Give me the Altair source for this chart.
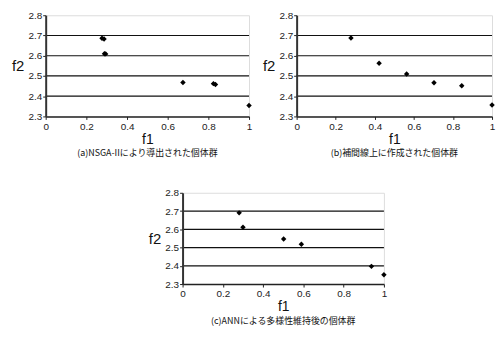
import altair as alt
import pandas as pd

FONT = "Liberation Sans, Arial, Noto Sans CJK JP"
CJK = "Noto Sans CJK JP, Liberation Sans"

# panel (a)
a_f1 = [0.277, 0.287, 0.289, 0.295, 0.675, 0.825, 0.835, 1.0]
a_f2 = [2.686, 2.683, 2.610, 2.609, 2.468, 2.462, 2.458, 2.354]
# panel (b)
b_f1 = [0.278, 0.422, 0.563, 0.703, 0.845, 1.0]
b_f2 = [2.688, 2.563, 2.510, 2.466, 2.452, 2.356]
# panel (c)
c_f1 = [0.281, 0.300, 0.502, 0.590, 0.938, 1.0]
c_f2 = [2.690, 2.611, 2.547, 2.518, 2.397, 2.351]

captions = [
    "(a)NSGA-IIにより導出された個体群",
    "(b)補間線上に作成された個体群",
    "(c)ANNによる多様性維持後の個体群",
]
x_ticks = [0, 0.2, 0.4, 0.6, 0.8, 1.0]
y_ticks = [2.3, 2.4, 2.5, 2.6, 2.7, 2.8]
grid_vals = [2.4, 2.5, 2.6, 2.7]

BORDER = "#7f9ca2"


def panel(xs, ys, caption, w, h):
    df = pd.DataFrame({"f1": xs, "f2": ys})
    gdf = pd.DataFrame({"f2": grid_vals})
    yscale = alt.Scale(domain=[2.3, 2.8], nice=False, zero=False)
    yaxis = alt.Axis(
        values=y_ticks, title="f2", grid=False, labelFontSize=10,
        labelFont=FONT, labelColor="#222", labelPadding=1,
        tickSize=3, tickColor="#222", domainColor="#333", domainWidth=2,
        titleFont=FONT, titleFontSize=15, titleFontWeight="normal",
        titleColor="#111", titleAngle=0, titleAlign="right",
        titleBaseline="middle", titleX=-22, titleY=h / 2,
        format=".1f", zindex=1, labelFlush=False, labelOverlap=False,
    )
    xenc = alt.X(
        "f1:Q",
        scale=alt.Scale(domain=[0, 1], nice=False, zero=False),
        axis=alt.Axis(
            values=x_ticks, title="f1", grid=False, labelFontSize=10,
            labelFont=FONT, labelColor="#222", labelPadding=2,
            tickSize=3, tickColor="#222", domainColor="#222", domainWidth=1.5,
            titleFont=FONT, titleFontSize=14, titleFontWeight="normal",
            titleColor="#111", titlePadding=1, zindex=1, labelFlush=False,
            labelOverlap=False, format=".1~f",
        ),
    )
    grid = alt.Chart(gdf).mark_rule(color="#111", strokeWidth=1.2).encode(
        y=alt.Y("f2:Q", scale=yscale, axis=yaxis)
    )
    pts = alt.Chart(df).mark_point(
        shape="diamond", filled=True, color="black", opacity=1, size=30
    ).encode(x=xenc, y=alt.Y("f2:Q", scale=yscale, axis=yaxis))
    return alt.layer(grid, pts).properties(
        width=w, height=h,
        title=alt.TitleParams(
            caption, orient="bottom", fontSize=9, font=CJK,
            fontWeight="normal", color="#111", offset=3, anchor="middle",
        ),
    )


pa = panel(a_f1, a_f2, captions[0], 205, 102)
pb = panel(b_f1, b_f2, captions[1], 197, 102)
pc = panel(c_f1, c_f2, captions[2], 203, 92)

spacer = alt.Chart(pd.DataFrame({"s": [0]})).mark_point(opacity=0).encode(
    x=alt.value(0), y=alt.value(0)
).properties(width=102, height=10, view=alt.ViewBackground(stroke=None))

top = alt.hconcat(pa, pb, spacing=8)
bottom = alt.hconcat(spacer, pc, spacing=0)

chart = alt.vconcat(top, bottom, spacing=28).properties(
    padding={"left": 2, "top": 0, "right": 0, "bottom": 0}
).configure_view(stroke=BORDER, strokeWidth=1.5).configure(background="white")

chart.save("out.html", embed_options={"renderer": "svg", "actions": False})
